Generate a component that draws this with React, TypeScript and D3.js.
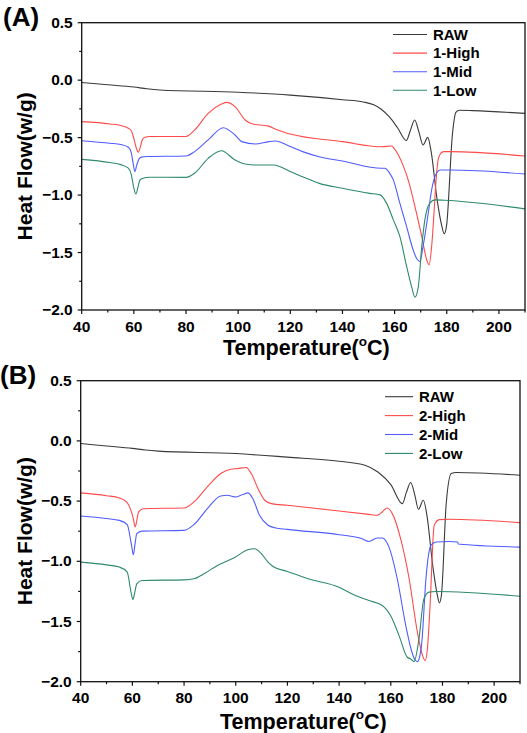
import React from "react";
import * as d3 from "d3";

type Pt = [number, number];

// ---------- Panel A data (Temperature °C, Heat flow W/g) ----------
const rawA: Pt[] = [
  [40, -0.02], [50, -0.04], [60, -0.06], [65, -0.075], [70, -0.085], [100, -0.105], [120, -0.13],
  [140, -0.17], [148, -0.19], [152, -0.215], [155, -0.255], [158, -0.32], [161, -0.41],
  [164.5, -0.525], [166, -0.44], [167.7, -0.347], [169.3, -0.45], [170.9, -0.564], [172.7, -0.498],
  [174, -0.62], [176.3, -1.04], [178.1, -1.27], [179, -1.337], [179.9, -1.27], [182.2, -0.463],
  [183.5, -0.28], [184.8, -0.262], [190, -0.265], [210, -0.289],
];
const highA: Pt[] = [
  [40, -0.361], [50.85, -0.381], [55, -0.395], [57.9, -0.418], [59, -0.44], [59.8, -0.49],
  [60.8, -0.58], [61.7, -0.627], [62.5, -0.58], [63.3, -0.515], [64.3, -0.497], [66, -0.49],
  [80, -0.49], [83.3, -0.434], [88.5, -0.289], [93.6, -0.208], [95.6, -0.193],
  [98.8, -0.23], [102.7, -0.347], [105.3, -0.38], [111.7, -0.4], [113.7, -0.42], [118.2, -0.457],
  [120, -0.469], [140, -0.535], [155, -0.58], [158.9, -0.573], [159.8, -0.593], [163.4, -0.75],
  [165.2, -0.868], [167.8, -1.1], [170.4, -1.36], [172.3, -1.563], [173.2, -1.607], [174.2, -1.448],
  [175.1, -1.157], [175.9, -0.868], [176.8, -0.68], [178, -0.63], [179, -0.622], [181.5, -0.622],
  [210, -0.66],
];
const midA: Pt[] = [
  [40, -0.527], [50.85, -0.549], [55, -0.56], [57.9, -0.584], [59, -0.63], [59.7, -0.72],
  [60.4, -0.796], [61.1, -0.74], [62, -0.685], [62.9, -0.67], [65, -0.664], [80, -0.66],
  [83.3, -0.622], [88.5, -0.52], [94.3, -0.414], [98.8, -0.477], [101.4, -0.535],
  [106.6, -0.556], [111.7, -0.535], [114.3, -0.53], [119.5, -0.573], [124.7, -0.622], [131.1, -0.666],
  [140, -0.704], [155, -0.767], [156.3, -0.767], [157.8, -0.8], [159.5, -0.868], [162, -1.07],
  [164.6, -1.274], [167.1, -1.477], [168.4, -1.55], [169.7, -1.578], [170.9, -1.448], [172.9, -1.157],
  [174.2, -0.955], [175.7, -0.825], [177.6, -0.782], [181.5, -0.782], [210, -0.817],
];
const lowA: Pt[] = [
  [40, -0.689], [50.85, -0.717], [55, -0.735], [57.9, -0.766], [59, -0.82], [60, -0.94],
  [60.8, -0.99], [61.6, -0.93], [62.3, -0.87], [63.5, -0.853], [66, -0.845], [80, -0.846],
  [83.3, -0.81], [88.5, -0.68], [93.6, -0.614], [98.8, -0.695], [102.7, -0.73],
  [106.6, -0.738], [113.7, -0.738], [119.5, -0.79], [124.7, -0.84], [131.1, -0.898], [140, -0.941],
  [150.5, -0.985], [154.4, -0.998], [156.9, -1.07], [159.5, -1.216], [162, -1.36], [164.6, -1.62],
  [166.5, -1.796], [167.8, -1.888], [169.1, -1.796], [170.4, -1.448], [171.6, -1.216], [173.5, -1.07],
  [175.5, -1.042], [179, -1.045], [210, -1.12],
];

// ---------- Panel B data ----------
const rawB: Pt[] = [
  [40, -0.022], [50, -0.042], [60, -0.062], [65, -0.076], [70, -0.085], [100, -0.105], [120, -0.135],
  [140, -0.169], [150, -0.202], [155, -0.258], [160, -0.363], [164.5, -0.521], [166, -0.43],
  [167.7, -0.346], [169.3, -0.45], [170.7, -0.568], [172.6, -0.493], [174, -0.62], [176.2, -1.03],
  [178, -1.28], [178.8, -1.345], [179.6, -1.28], [181.4, -0.535], [183.4, -0.271], [185.3, -0.263],
  [210, -0.285],
];
const highB: Pt[] = [
  [40, -0.432], [50, -0.455], [55, -0.474], [58, -0.513], [60.3, -0.64], [61.1, -0.715], [61.8, -0.65],
  [62.4, -0.59], [64.3, -0.563], [80, -0.557], [83.8, -0.507], [89, -0.382], [94.2, -0.271],
  [98.1, -0.235], [100.7, -0.23], [104, -0.221], [106, -0.271], [108.6, -0.396], [111.2, -0.493],
  [113.8, -0.521], [120, -0.535], [140, -0.582], [151.5, -0.61], [154.7, -0.618], [156.7, -0.59],
  [158.6, -0.557], [160.6, -0.604], [163.8, -0.812], [167.1, -1.145], [170.3, -1.589], [172.4, -1.79],
  [173.3, -1.825], [174.2, -1.72], [175.2, -1.367], [176.8, -0.701], [178.8, -0.654], [182.7, -0.651],
  [210, -0.679],
];
const midB: Pt[] = [
  [40, -0.624], [50, -0.645], [55, -0.66], [58, -0.696], [59.7, -0.87], [60.4, -0.946], [61, -0.86],
  [61.7, -0.771], [63.7, -0.749], [80, -0.743], [83.8, -0.696], [89, -0.563], [94.2, -0.457],
  [96.8, -0.452], [100.1, -0.466], [102.7, -0.446], [104.7, -0.432], [106.6, -0.479], [109.2, -0.618],
  [112.5, -0.701], [115.1, -0.721], [120, -0.735], [140, -0.779], [148.9, -0.812], [151.5, -0.835],
  [154.7, -0.807], [156.7, -0.807], [159.3, -0.882], [162.5, -1.145], [165.8, -1.534], [168.4, -1.77],
  [169.4, -1.82], [170.3, -1.833], [171.2, -1.79], [172, -1.673], [173.6, -1.145], [175.5, -0.868],
  [177.5, -0.84], [182.7, -0.835], [185.9, -0.84], [186.1, -0.856], [210, -0.882],
];
const lowB: Pt[] = [
  [40, -1.007], [50, -1.03], [55, -1.048], [58, -1.09], [59.5, -1.26], [60.2, -1.317], [60.9, -1.26],
  [61.7, -1.187], [63.7, -1.159], [80, -1.154], [83.8, -1.145], [87.7, -1.104], [92.9, -1.034],
  [99.4, -0.971], [104.7, -0.904], [107.3, -0.896], [109.9, -0.937], [112.5, -1.007], [114.4, -1.043],
  [120, -1.084], [128.1, -1.145], [140, -1.215], [146.3, -1.284], [151.5, -1.326], [156.7, -1.367],
  [159.9, -1.451], [163.2, -1.617], [166.4, -1.797], [167.7, -1.811], [169, -1.833], [170.9, -1.645],
  [172.8, -1.312], [174.8, -1.256], [177.4, -1.251], [210, -1.29],
];

const xMajorTicks = [40, 60, 80, 100, 120, 140, 160, 180, 200];
const xMinorTicks = [50, 70, 90, 110, 130, 150, 170, 190, 210];
const yMajorTicks = [0.5, 0.0, -0.5, -1.0, -1.5, -2.0];
const yMinorTicks = [0.25, -0.25, -0.75, -1.25, -1.75];

const seriesNamesA = ["RAW", "1-High", "1-Mid", "1-Low"];
const seriesNamesB = ["RAW", "2-High", "2-Mid", "2-Low"];
const colors = ["#3a3a3a", "#ff4a4a", "#4f5cff", "#2e8a68"];

const FONT = "'Liberation Sans', Arial, sans-serif";

interface PanelProps {
  label: string;
  left: number;
  right: number;
  top: number;
  bottom: number;
  series: Pt[][];
  names: string[];
  legendX: number;
  legendY: number;
  legendLine: number;
  legendStep: number;
  titleY: number;
}

function Panel(p: PanelProps) {
  const x = d3.scaleLinear().domain([40, 210]).range([p.left, p.right]);
  const y = d3.scaleLinear().domain([-2.0, 0.5]).range([p.bottom, p.top]);
  const line = d3
    .line<Pt>()
    .x((d) => x(d[0]))
    .y((d) => y(d[1]))
    .curve(d3.curveMonotoneX);
  const fmt = d3.format(".1f");
  const midY = (p.top + p.bottom) / 2;
  return (
    <g fontFamily={FONT} fontWeight="bold">
      <text x={p.label === "(A)" ? 3 : 0} y={p.top + 3} fontSize={26}>
        {p.label}
      </text>
      {p.series.map((s, i) => (
        <path key={i} d={line(s) || ""} fill="none" stroke={colors[i]} strokeWidth={1.1} />
      ))}
      <rect x={p.left} y={p.top} width={p.right - p.left} height={p.bottom - p.top} fill="none" stroke="#111" strokeWidth={1.3} />
      {xMajorTicks.map((t) => (
        <g key={"xm" + t}>
          <line x1={x(t)} x2={x(t)} y1={p.bottom} y2={p.bottom + 4} stroke="#111" strokeWidth={1.2} />
          <text x={x(t)} y={p.bottom + 21.5} fontSize={15.5} textAnchor="middle">
            {t}
          </text>
        </g>
      ))}
      {xMinorTicks.map((t) => (
        <line key={"xn" + t} x1={x(t)} x2={x(t)} y1={p.bottom} y2={p.bottom + 2.5} stroke="#111" strokeWidth={1.2} />
      ))}
      {yMajorTicks.map((t) => (
        <g key={"ym" + t}>
          <line x1={p.left - 4} x2={p.left} y1={y(t)} y2={y(t)} stroke="#111" strokeWidth={1.2} />
          <text x={p.left - 9} y={y(t)} dy="0.33em" fontSize={15.5} textAnchor="end">
            {fmt(t)}
          </text>
        </g>
      ))}
      {yMinorTicks.map((t) => (
        <line key={"yn" + t} x1={p.left - 2.5} x2={p.left} y1={y(t)} y2={y(t)} stroke="#111" strokeWidth={1.2} />
      ))}
      <text x={(p.left + p.right) / 2 + 3} y={p.titleY} fontSize={21.5} textAnchor="middle">
        Temperature(
        <tspan fontSize={13.5} dy={-9.5}>o</tspan>
        <tspan dy={9.5}>C)</tspan>
      </text>
      <text
        transform={`translate(${32},${midY}) rotate(-90)`}
        fontSize={21}
        textAnchor="middle"
      >
        Heat Flow(w/g)
      </text>
      {p.names.map((n, i) => (
        <g key={n}>
          <line
            x1={p.legendX}
            x2={p.legendX + p.legendLine}
            y1={p.legendY + i * p.legendStep}
            y2={p.legendY + i * p.legendStep}
            stroke={colors[i]}
            strokeWidth={1.1}
          />
          <text x={p.legendX + p.legendLine + 6} y={p.legendY + i * p.legendStep} dy="0.35em" fontSize={15}>
            {n}
          </text>
        </g>
      ))}
    </g>
  );
}

export default function App() {
  return (
    <svg width={527} height={733} style={{ position: "absolute", left: 0, top: 0, background: "#fff" }}>
      <rect x={0} y={0} width={527} height={733} fill="#fff" />
      <Panel
        label="(A)"
        left={81.7}
        right={525}
        top={22.7}
        bottom={310}
        series={[rawA, highA, midA, lowA]}
        names={seriesNamesA}
        legendX={393}
        legendY={34.5}
        legendLine={34}
        legendStep={18.6}
        titleY={355}
      />
      <Panel
        label="(B)"
        left={80.7}
        right={520}
        top={380.7}
        bottom={681.7}
        series={[rawB, highB, midB, lowB]}
        names={seriesNamesB}
        legendX={385}
        legendY={396.7}
        legendLine={28}
        legendStep={18.9}
        titleY={728.5}
      />
    </svg>
  );
}
